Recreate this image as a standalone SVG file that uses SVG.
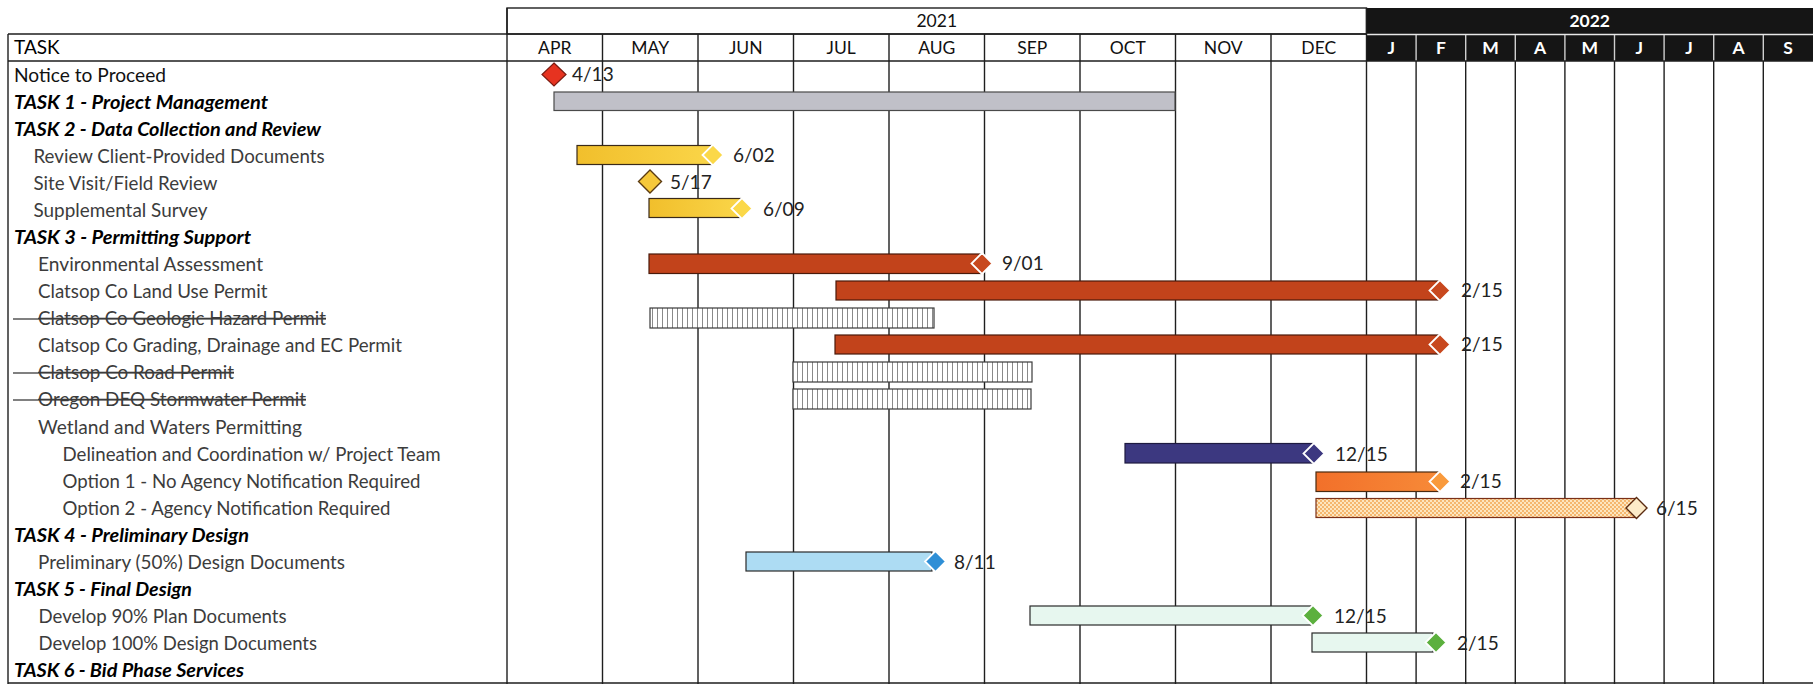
<svg xmlns="http://www.w3.org/2000/svg" width="1813" height="684" viewBox="0 0 1813 684">
<defs>
<style>
.lbl{font-family:Lato,"Liberation Sans",sans-serif;font-size:19px;fill:#111}
.sub{fill:#3c3c3c}
.task{font-weight:bold;font-style:italic;fill:#000;font-size:19.5px}
.strike{text-decoration:line-through}
.hdr{font-family:Lato,"Liberation Sans",sans-serif;font-size:17.5px;fill:#111;text-anchor:middle}
.hdrw{font-family:Lato,"Liberation Sans",sans-serif;font-size:17.5px;fill:#fff;font-weight:bold;text-anchor:middle}
.date{font-family:Lato,"Liberation Sans",sans-serif;font-size:19px;fill:#222}
.grid{stroke:#1e1e1e;stroke-width:1.4}
.bar{stroke:#3a2a1a;stroke-width:1.2}
.end{stroke:#fff;stroke-width:1.8}
</style>
<pattern id="hatch" width="5" height="20" patternUnits="userSpaceOnUse">
<rect width="5" height="20" fill="#fff"/>
<line x1="2.5" y1="0" x2="2.5" y2="20" stroke="#8a8a8a" stroke-width="1"/>
</pattern>
<pattern id="dots" width="4" height="4" patternUnits="userSpaceOnUse">
<rect width="4" height="4" fill="#fde6bf"/>
<circle cx="1" cy="1" r="0.9" fill="#f2a048"/>
<circle cx="3" cy="3" r="0.9" fill="#f2a048"/>
</pattern>
<linearGradient id="gold" x1="0" y1="0" x2="1" y2="0">
<stop offset="0" stop-color="#f1bf2c"/><stop offset="1" stop-color="#fad548"/>
</linearGradient>
<linearGradient id="orange" x1="0" y1="0" x2="1" y2="0">
<stop offset="0" stop-color="#f2702a"/><stop offset="1" stop-color="#f78a38"/>
</linearGradient>
</defs>
<rect width="1813" height="684" fill="#fff"/>

<g id="grid">
<rect x="507" y="8" width="859.5" height="26" fill="#fff" class="grid"/>
<rect x="1366.5" y="8" width="446.5" height="53" fill="#151515"/>
<line x1="1366.5" y1="34.5" x2="1813" y2="34.5" stroke="#e8e8e8" stroke-width="1.4"/>
<g stroke="#cfcfcf" stroke-width="1.4">
<line x1="1416.1" y1="35" x2="1416.1" y2="61"/><line x1="1465.7" y1="35" x2="1465.7" y2="61"/>
<line x1="1515.3" y1="35" x2="1515.3" y2="61"/><line x1="1564.9" y1="35" x2="1564.9" y2="61"/>
<line x1="1614.5" y1="35" x2="1614.5" y2="61"/><line x1="1664.1" y1="35" x2="1664.1" y2="61"/>
<line x1="1713.7" y1="35" x2="1713.7" y2="61"/><line x1="1763.3" y1="35" x2="1763.3" y2="61"/>
</g>
<g class="grid">
<line x1="8" y1="34" x2="1366.5" y2="34"/>
<line x1="8" y1="61" x2="1813" y2="61"/>
<line x1="8" y1="683" x2="1813" y2="683"/>
<line x1="8" y1="34" x2="8" y2="684"/>
<line x1="507" y1="8" x2="507" y2="684"/>
<line x1="602.5" y1="34" x2="602.5" y2="684"/>
<line x1="698" y1="34" x2="698" y2="684"/>
<line x1="793.5" y1="34" x2="793.5" y2="684"/>
<line x1="889" y1="34" x2="889" y2="684"/>
<line x1="984.5" y1="34" x2="984.5" y2="684"/>
<line x1="1080" y1="34" x2="1080" y2="684"/>
<line x1="1175.5" y1="34" x2="1175.5" y2="684"/>
<line x1="1271" y1="34" x2="1271" y2="684"/>
<line x1="1366.5" y1="8" x2="1366.5" y2="684"/>
<line x1="1416.1" y1="61" x2="1416.1" y2="684"/>
<line x1="1465.7" y1="61" x2="1465.7" y2="684"/>
<line x1="1515.3" y1="61" x2="1515.3" y2="684"/>
<line x1="1564.9" y1="61" x2="1564.9" y2="684"/>
<line x1="1614.5" y1="61" x2="1614.5" y2="684"/>
<line x1="1664.1" y1="61" x2="1664.1" y2="684"/>
<line x1="1713.7" y1="61" x2="1713.7" y2="684"/>
<line x1="1763.3" y1="61" x2="1763.3" y2="684"/>
</g>
</g>

<g id="header">
<text class="hdr" x="936.75" y="27">2021</text>
<text class="hdrw" x="1589.7" y="27">2022</text>
<text class="lbl" x="14" y="54" style="fill:#000">TASK</text>
<text class="hdr" x="554.75" y="54">APR</text>
<text class="hdr" x="650.25" y="54">MAY</text>
<text class="hdr" x="745.75" y="54">JUN</text>
<text class="hdr" x="841.25" y="54">JUL</text>
<text class="hdr" x="936.75" y="54">AUG</text>
<text class="hdr" x="1032.25" y="54">SEP</text>
<text class="hdr" x="1127.75" y="54">OCT</text>
<text class="hdr" x="1223.25" y="54">NOV</text>
<text class="hdr" x="1318.75" y="54">DEC</text>
<text class="hdrw" x="1391.3" y="54">J</text>
<text class="hdrw" x="1440.9" y="54">F</text>
<text class="hdrw" x="1490.5" y="54">M</text>
<text class="hdrw" x="1540.1" y="54">A</text>
<text class="hdrw" x="1589.7" y="54">M</text>
<text class="hdrw" x="1639.3" y="54">J</text>
<text class="hdrw" x="1688.9" y="54">J</text>
<text class="hdrw" x="1738.5" y="54">A</text>
<text class="hdrw" x="1788.1" y="54">S</text>
</g>

<g id="r00-notice">
<text class="lbl" x="14" y="82" textLength="152" lengthAdjust="spacingAndGlyphs">Notice to Proceed</text>
<polygon points="554,63 566,74.5 554,86 542,74.5" fill="#e63320" stroke="#7a1a10" stroke-width="1.2"/>
<text class="date" x="572" y="81">4/13</text>
</g>
<g id="r01-task1">
<text class="lbl task" x="14" y="109" textLength="254" lengthAdjust="spacingAndGlyphs">TASK 1 - Project Management</text>
<rect x="554" y="92" width="621" height="18.5" fill="#c0c0c8" stroke="#4a4a4a" stroke-width="1.2"/>
</g>
<g id="r02-task2">
<text class="lbl task" x="14" y="136" textLength="307" lengthAdjust="spacingAndGlyphs">TASK 2 - Data Collection and Review</text>
</g>
<g id="r03-review">
<text class="lbl sub" x="33.5" y="163" textLength="291" lengthAdjust="spacingAndGlyphs">Review Client-Provided Documents</text>
<rect class="bar" x="577" y="145.5" width="135" height="19" fill="url(#gold)"/>
<polygon class="end" points="713,144.5 723.5,155 713,165.5 702.5,155" fill="#fbd848"/>
<text class="date" x="733" y="162">6/02</text>
</g>
<g id="r04-site">
<text class="lbl sub" x="33.5" y="190" textLength="184" lengthAdjust="spacingAndGlyphs">Site Visit/Field Review</text>
<polygon points="650,170 661.5,181.5 650,193 638.5,181.5" fill="#f6c83a" stroke="#5a3a10" stroke-width="1.4"/>
<text class="date" x="670" y="189">5/17</text>
</g>
<g id="r05-survey">
<text class="lbl sub" x="33.5" y="217" textLength="174" lengthAdjust="spacingAndGlyphs">Supplemental Survey</text>
<rect class="bar" x="649" y="198.5" width="92" height="19" fill="url(#gold)"/>
<polygon class="end" points="742,198 752.5,208.5 742,219 731.5,208.5" fill="#fbd848"/>
<text class="date" x="763" y="216">6/09</text>
</g>
<g id="r06-task3">
<text class="lbl task" x="14" y="244" textLength="237" lengthAdjust="spacingAndGlyphs">TASK 3 - Permitting Support</text>
</g>
<g id="r07-env">
<text class="lbl sub" x="38" y="271" textLength="225" lengthAdjust="spacingAndGlyphs">Environmental Assessment</text>
<rect x="649" y="254" width="333" height="19.5" fill="#c2431b" stroke="#4a1a0a" stroke-width="1.2"/>
<polygon class="end" points="982,253 992.5,263.5 982,274 971.5,263.5" fill="#c8481e"/>
<text class="date" x="1002" y="270">9/01</text>
</g>
<g id="r08-landuse">
<text class="lbl sub" x="38" y="298" textLength="229.5" lengthAdjust="spacingAndGlyphs">Clatsop Co Land Use Permit</text>
<rect x="836" y="281" width="604" height="19" fill="#c2431b" stroke="#4a1a0a" stroke-width="1.2"/>
<polygon class="end" points="1440,280 1450.5,290.5 1440,301 1429.5,290.5" fill="#c8481e"/>
<text class="date" x="1461" y="297">2/15</text>
</g>
<g id="r09-geologic">
<line x1="13" y1="319" x2="38" y2="319" stroke="#3c3c3c" stroke-width="1.3"/>
<text class="lbl sub strike" x="38" y="325" textLength="288" lengthAdjust="spacingAndGlyphs">Clatsop Co Geologic Hazard Permit</text>
<rect x="650" y="308" width="284" height="20" fill="url(#hatch)" stroke="#3a3a3a" stroke-width="1.2"/>
</g>
<g id="r10-grading">
<text class="lbl sub" x="38" y="352" textLength="364" lengthAdjust="spacingAndGlyphs">Clatsop Co Grading, Drainage and EC Permit</text>
<rect x="835" y="335" width="605" height="19" fill="#c2431b" stroke="#4a1a0a" stroke-width="1.2"/>
<polygon class="end" points="1440,334 1450.5,344.5 1440,355 1429.5,344.5" fill="#c8481e"/>
<text class="date" x="1461" y="351">2/15</text>
</g>
<g id="r11-road">
<line x1="13" y1="373" x2="38" y2="373" stroke="#3c3c3c" stroke-width="1.3"/>
<text class="lbl sub strike" x="38" y="379" textLength="196" lengthAdjust="spacingAndGlyphs">Clatsop Co Road Permit</text>
<rect x="793" y="362" width="239" height="20" fill="url(#hatch)" stroke="#3a3a3a" stroke-width="1.2"/>
</g>
<g id="r12-deq">
<line x1="13" y1="400" x2="38" y2="400" stroke="#3c3c3c" stroke-width="1.3"/>
<text class="lbl sub strike" x="38" y="406" textLength="268" lengthAdjust="spacingAndGlyphs">Oregon DEQ Stormwater Permit</text>
<rect x="793" y="389" width="238" height="20" fill="url(#hatch)" stroke="#3a3a3a" stroke-width="1.2"/>
</g>
<g id="r13-wetland">
<text class="lbl sub" x="38" y="434" textLength="264" lengthAdjust="spacingAndGlyphs">Wetland and Waters Permitting</text>
</g>
<g id="r14-delineation">
<text class="lbl sub" x="62.5" y="461" textLength="378" lengthAdjust="spacingAndGlyphs">Delineation and Coordination w/ Project Team</text>
<rect x="1125" y="443.5" width="189" height="19.5" fill="#3c3880" stroke="#1e1a40" stroke-width="1.2"/>
<polygon class="end" points="1314,443 1324.5,453.5 1314,464 1303.5,453.5" fill="#3c3880"/>
<text class="date" x="1335" y="461">12/15</text>
</g>
<g id="r15-option1">
<text class="lbl sub" x="62.5" y="488" textLength="358" lengthAdjust="spacingAndGlyphs">Option 1 - No Agency Notification Required</text>
<rect x="1316" y="472" width="124" height="19.5" fill="url(#orange)" stroke="#4a2a10" stroke-width="1.2"/>
<polygon class="end" points="1440,471 1450.5,481.5 1440,492 1429.5,481.5" fill="#f99a3c"/>
<text class="date" x="1460" y="488">2/15</text>
</g>
<g id="r16-option2">
<text class="lbl sub" x="62.5" y="515" textLength="328" lengthAdjust="spacingAndGlyphs">Option 2 - Agency Notification Required</text>
<rect x="1316" y="498.5" width="320" height="19" fill="url(#dots)" stroke="#7a3018" stroke-width="1.2"/>
<polygon points="1636.5,497.5 1647,508 1636.5,518.5 1626,508" fill="#fdebc8" stroke="#5a2a10" stroke-width="1.4"/>
<text class="date" x="1656" y="515">6/15</text>
</g>
<g id="r17-task4">
<text class="lbl task" x="14" y="542" textLength="235" lengthAdjust="spacingAndGlyphs">TASK 4 - Preliminary Design</text>
</g>
<g id="r18-prelim">
<text class="lbl sub" x="38" y="569" textLength="307" lengthAdjust="spacingAndGlyphs">Preliminary (50%) Design Documents</text>
<rect x="746" y="552" width="186" height="19" fill="#addcf3" stroke="#2a2a2a" stroke-width="1.2"/>
<polygon class="end" points="935.5,551 946,561.5 935.5,572 925,561.5" fill="#2f8fd6"/>
<text class="date" x="954" y="569">8/11</text>
</g>
<g id="r19-task5">
<text class="lbl task" x="14" y="596" textLength="178" lengthAdjust="spacingAndGlyphs">TASK 5 - Final Design</text>
</g>
<g id="r20-90pct">
<text class="lbl sub" x="38.5" y="623" textLength="248" lengthAdjust="spacingAndGlyphs">Develop 90% Plan Documents</text>
<rect x="1030" y="606" width="281" height="19" fill="#e7f7ef" stroke="#2a2a2a" stroke-width="1.2"/>
<polygon class="end" points="1313,605 1323.5,615.5 1313,626 1302.5,615.5" fill="#5cb03e"/>
<text class="date" x="1334" y="623">12/15</text>
</g>
<g id="r21-100pct">
<text class="lbl sub" x="38.5" y="650" textLength="278.5" lengthAdjust="spacingAndGlyphs">Develop 100% Design Documents</text>
<rect x="1312" y="633" width="121" height="19" fill="#e7f7ef" stroke="#2a2a2a" stroke-width="1.2"/>
<polygon class="end" points="1436,632 1446.5,642.5 1436,653 1425.5,642.5" fill="#5cb03e"/>
<text class="date" x="1457" y="650">2/15</text>
</g>
<g id="r22-task6">
<text class="lbl task" x="14" y="677" textLength="230" lengthAdjust="spacingAndGlyphs">TASK 6 - Bid Phase Services</text>
</g>
</svg>
